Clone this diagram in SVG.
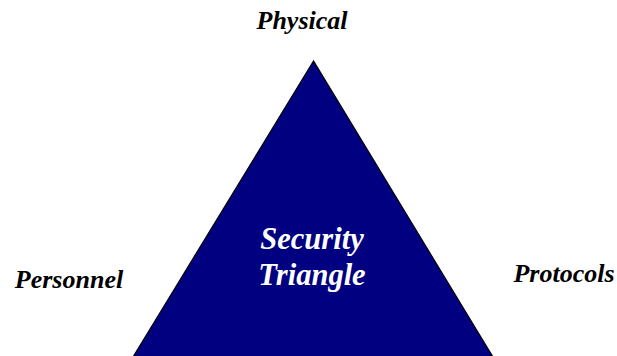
<svg xmlns="http://www.w3.org/2000/svg" width="617" height="356" viewBox="0 0 617 356">
<style>
.lbl{font-family:"Liberation Serif","Times New Roman",serif;font-weight:bold;font-style:italic;font-size:26px;fill:#000;text-anchor:middle}
.in{font-family:"Liberation Serif","Times New Roman",serif;font-weight:bold;font-style:italic;font-size:30.5px;fill:#fff;text-anchor:middle}
</style>
<rect width="617" height="356" fill="#fff"/>
<g id="triangle">
<polygon points="313.5,61 133,357 493,357" fill="#000080" stroke="#000" stroke-width="1.2"/>
<text class="in" x="312" y="249">Security</text>
<text class="in" x="312" y="285">Triangle</text>
</g>
<g id="physical"><text class="lbl" x="302" y="29">Physical</text></g>
<g id="personnel"><text class="lbl" x="69" y="288">Personnel</text></g>
<g id="protocols"><text class="lbl" x="564" y="282">Protocols</text></g>
<g id="connectors"></g>
</svg>
